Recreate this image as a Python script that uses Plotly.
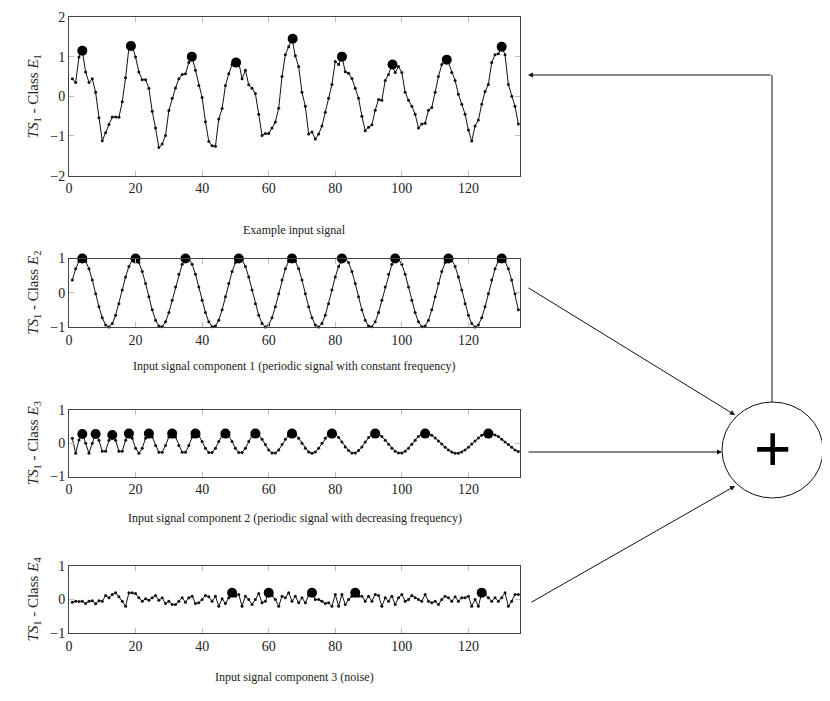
import plotly.graph_objects as go

# time index
t = list(range(1, 136))

# example input signal (class E1)
sig_e1 = [0.44, 0.35, 0.99, 1.15, 0.61, 0.35, 0.44, 0.10, -0.54, -1.12,
          -0.92, -0.71, -0.52, -0.52, -0.53, -0.14, 0.47, 1.22, 1.27, 0.99,
          0.61, 0.42, 0.42, 0.20, -0.38, -0.80, -1.29, -1.20, -0.99, -0.36,
          -0.05, 0.21, 0.44, 0.55, 0.57, 0.85, 1.00, 0.66, 0.27, -0.03,
          -0.64, -1.14, -1.25, -1.26, -0.57, -0.31, 0.27, 0.57, 0.80, 0.85,
          0.85, 0.44, 0.66, 0.29, 0.20, 0.07, -0.45, -0.99, -0.94, -0.94,
          -0.80, -0.65, -0.30, 0.50, 1.05, 1.25, 1.45, 1.02, 0.75, 0.10,
          -0.25, -0.95, -0.90, -1.08, -0.95, -0.75, -0.40, -0.05, 0.30, 0.88,
          0.80, 1.00, 0.62, 0.58, 0.45, 0.20, -0.05, -0.50, -0.87, -0.78,
          -0.72, -0.35, -0.08, -0.10, 0.40, 0.55, 0.80, 0.60, 0.75, 0.60,
          0.10, -0.10, -0.25, -0.45, -0.80, -0.70, -0.68, -0.35, -0.28, 0.10,
          0.50, 0.80, 0.92, 0.85, 0.60, 0.40, 0.05, -0.20, -0.45, -0.85,
          -1.13, -0.75, -0.60, -0.20, 0.12, 0.30, 0.85, 1.05, 1.07, 1.25,
          1.05, 0.30, 0.00, -0.25, -0.70]

# component 1: constant frequency
sig_e2 = [0.37, 0.70, 0.92,
          1.00, 0.92, 0.70, 0.37, -0.03, -0.41, -0.73, -0.94, -1.00, -0.90, -0.66, -0.32, 0.08, 0.46, 0.77, 0.96,
          1.00, 0.88, 0.62, 0.27, -0.12, -0.50, -0.80, -0.97, -0.99, -0.85, -0.58, -0.22, 0.17, 0.54, 0.83, 0.98,
          0.98, 0.83, 0.54, 0.17, -0.22, -0.58, -0.85, -0.99, -0.97, -0.80, -0.50, -0.12, 0.27, 0.62, 0.88, 1.00,
          0.96, 0.77, 0.46, 0.08, -0.32, -0.66, -0.90, -1.00, -0.94, -0.73, -0.41, -0.03, 0.37, 0.70, 0.92,
          1.00, 0.92, 0.70, 0.37, -0.03, -0.41, -0.73, -0.94, -1.00, -0.90, -0.66, -0.32, 0.08, 0.46, 0.77, 0.96,
          1.00, 0.88, 0.62, 0.27, -0.12, -0.50, -0.80, -0.97, -0.99, -0.85, -0.58, -0.22, 0.17, 0.54, 0.83, 0.98,
          0.98, 0.83, 0.54, 0.17, -0.22, -0.58, -0.85, -0.99, -0.97, -0.80, -0.50, -0.12, 0.27, 0.62, 0.88, 1.00,
          0.96, 0.77, 0.46, 0.08, -0.32, -0.66, -0.90, -1.00, -0.94, -0.73, -0.41, -0.03, 0.37, 0.70, 0.92,
          1.00, 0.92, 0.70, 0.37, -0.03, -0.50]

# component 2: decreasing frequency
sig_e3 = [0.15, -0.30, 0.10, 0.30, 0.00, -0.30, 0.00, 0.30,
          0.09, -0.24, -0.24, 0.09, 0.30,
          0.09, -0.24, -0.24, 0.09, 0.30,
          0.15, -0.15, -0.30, -0.15, 0.15, 0.30,
          0.19, -0.07, -0.27, -0.27, -0.07, 0.19, 0.30,
          0.19, -0.07, -0.27, -0.27, -0.07, 0.19, 0.30,
          0.23, 0.05, -0.15, -0.28, -0.28, -0.15, 0.05, 0.23, 0.30,
          0.23, 0.05, -0.15, -0.28, -0.28, -0.15, 0.05, 0.23, 0.30,
          0.25, 0.12, -0.04, -0.20, -0.29, -0.29, -0.20, -0.04, 0.12, 0.25, 0.30,
          0.26, 0.15, 0.00, -0.15, -0.26, -0.30, -0.26, -0.15, 0.00, 0.15, 0.26, 0.30,
          0.27, 0.17, 0.04, -0.11, -0.22, -0.29, -0.29, -0.22, -0.11, 0.04, 0.17, 0.27, 0.30,
          0.27, 0.20, 0.09, -0.03, -0.15, -0.24, -0.29, -0.29, -0.24, -0.15, -0.03, 0.09, 0.20, 0.27, 0.30,
          0.28, 0.24, 0.16, 0.07, -0.02, -0.12, -0.20, -0.26, -0.30, -0.30, -0.26, -0.20, -0.12, -0.02, 0.07, 0.16, 0.24, 0.28, 0.30,
          0.29, 0.25, 0.20, 0.12, 0.04, -0.04, -0.12, -0.20, -0.25]

# component 3: noise
sig_e4 = [-0.08, -0.05, -0.06, -0.05, -0.12, -0.05, -0.04, -0.13, -0.04, -0.05,
          0.12, 0.05, 0.15, 0.20, 0.08, -0.05, -0.20, 0.20, 0.20, 0.18,
          0.05, -0.05, 0.02, -0.02, 0.05, 0.12, -0.02, 0.05, -0.12, -0.05,
          -0.15, -0.15, -0.05, 0.05, -0.08, 0.05, 0.10, -0.12, -0.10, 0.00,
          0.12, 0.08, -0.05, 0.10, -0.20, 0.02, -0.12, 0.05, 0.20, 0.10,
          0.15, -0.20, 0.10, 0.00, -0.15, 0.00, 0.18, -0.10, -0.05, 0.20,
          0.12, 0.00, -0.20, 0.10, 0.05, 0.20, -0.05, 0.10, -0.10, 0.05,
          -0.10, 0.12, 0.20, 0.00, 0.00, -0.05, -0.12, -0.10, -0.20, 0.15,
          -0.20, 0.15, -0.15, 0.00, 0.10, 0.20, 0.10, 0.10, -0.05, 0.10,
          -0.05, 0.15, 0.12, -0.20, 0.05, -0.05, 0.10, -0.15, 0.05, 0.15,
          -0.05, 0.00, 0.12, 0.05, 0.00, -0.05, 0.15, -0.05, -0.10, -0.05,
          -0.15, 0.00, 0.10, 0.05, -0.05, 0.08, -0.05, 0.05, 0.05, 0.10,
          -0.20, 0.00, -0.20, 0.20, 0.15, 0.05, -0.05, 0.05, -0.05, 0.05,
          0.20, -0.20, -0.05, 0.15, 0.15]

# detected peaks (big dots)
pk1_x = [4, 18.6, 36.9, 50.2, 67.2, 82, 97.2, 113.5, 130]
pk1_y = [1.15, 1.27, 1.0, 0.85, 1.45, 1.0, 0.8, 0.92, 1.25]
pk2_x = [4, 20, 35, 51, 67, 82, 98, 114, 130]
pk2_y = [1, 1, 1, 1, 1, 1, 1, 1, 1]
pk3_x = [4, 8, 13, 18, 24, 31, 38, 47, 56, 67, 79, 92, 107, 126]
pk3_y = [0.28, 0.28, 0.25, 0.29, 0.29, 0.29, 0.29, 0.29, 0.29, 0.29, 0.29, 0.29, 0.29, 0.29]
pk4_x = [49, 60, 73, 86, 124]
pk4_y = [0.2, 0.2, 0.2, 0.2, 0.2]

captions = ["Example input signal",
            "Input signal component 1 (periodic signal with constant frequency)",
            "Input signal component 2 (periodic signal with decreasing frequency)",
            "Input signal component 3 (noise)"]

# page has an 8px body margin, so the figure is 8px smaller and positions are shifted
OFF = 8
W, H = 830 - OFF, 701 - OFF
def px(v): return (v - OFF) / W
def py(v): return 1 - (v - OFF) / H

serif = "Liberation Serif, Times New Roman, serif"
signals = [sig_e1, sig_e2, sig_e3, sig_e4]
peaks = [(pk1_x, pk1_y), (pk2_x, pk2_y), (pk3_x, pk3_y), (pk4_x, pk4_y)]
# pixel top/bottom of each panel
rows = [(17, 175.6), (258.5, 327), (410, 476.5), (566, 633)]
cap_y = [220.7, 366, 527, 686]
yranges = [[-2, 2], [-1, 1], [-1, 1], [-1, 1]]
yticks = [[-2, -1, 0, 1, 2], [-1, 0, 1], [-1, 0, 1], [-1, 0, 1]]

fig = go.Figure()
layout = {}
for i in range(4):
    n = "" if i == 0 else str(i + 1)
    fig.add_trace(go.Scatter(x=t, y=signals[i], mode="lines+markers",
                             line=dict(color="#111", width=1),
                             marker=dict(color="#111", size=3),
                             xaxis="x" + n, yaxis="y" + n, cliponaxis=False,
                             showlegend=False))
    fig.add_trace(go.Scatter(x=peaks[i][0], y=peaks[i][1], mode="markers",
                             marker=dict(color="black", size=10),
                             xaxis="x" + n, yaxis="y" + n, cliponaxis=False,
                             showlegend=False))
    top, bot = rows[i]
    layout["xaxis" + n] = dict(domain=[px(69), px(520)], anchor="y" + n,
                               range=[0, 135.5], tickvals=[0, 20, 40, 60, 80, 100, 120],
                               showgrid=False, zeroline=False, showline=True,
                               linecolor="#444", linewidth=1, mirror="ticks",
                               ticks="inside", ticklen=5, tickcolor="#bbb",
                               automargin=False,
                               tickfont=dict(family=serif, size=14, color="#222"))
    layout["yaxis" + n] = dict(domain=[py(bot), py(top)], anchor="x" + n,
                               range=yranges[i], tickvals=yticks[i],
                               showgrid=False, zeroline=False, showline=True,
                               linecolor="#444", linewidth=1, mirror="ticks",
                               ticks="inside", ticklen=5, tickcolor="#bbb",
                               automargin=False,
                               tickfont=dict(family=serif, size=14, color="#222"),
                               title=dict(text="<i>TS</i><sub>1</sub> - Class <i>E</i><sub>%d</sub>" % (i + 1),
                                          font=dict(family=serif, size=15, color="#222"),
                                          standoff=8))
fig.update_layout(**layout)

ann = []
for i, c in enumerate(captions):
    ann.append(dict(text=c, x=px(294.5), y=py(cap_y[i]), xref="paper", yref="paper",
                    xanchor="center", showarrow=False,
                    font=dict(family=serif, size=12, color="#222")))

# arrows into the adder / back to the input signal (start, end) in pixels
arrows = [((772, 75), (528, 75)),
          ((527, 287), (735, 415)),
          ((527, 452), (722, 452)),
          ((530, 603), (735, 486))]
for (sx, sy), (ex, ey) in arrows:
    ann.append(dict(x=px(ex), y=py(ey), ax=sx - ex, ay=sy - ey, xref="paper", yref="paper",
                    axref="pixel", ayref="pixel", showarrow=True, arrowhead=2,
                    arrowsize=1, arrowwidth=1, arrowcolor="#111", text=""))
ann.append(dict(text="+", x=px(772), y=py(449), xref="paper", yref="paper",
                xanchor="center", yanchor="middle", showarrow=False,
                font=dict(family="Liberation Sans, Arial", size=64, color="black")))

shapes = [dict(type="circle", xref="paper", yref="paper", x0=px(722), x1=px(823),
               y0=py(498), y1=py(402), line=dict(color="#111", width=1)),
          dict(type="line", xref="paper", yref="paper", x0=px(772), x1=px(772),
               y0=py(402), y1=py(75), line=dict(color="#111", width=1))]

fig.update_layout(width=W, height=H, margin=dict(l=0, r=0, t=0, b=0),
                  paper_bgcolor="white", plot_bgcolor="white",
                  annotations=ann, shapes=shapes)
fig.write_html("out.html")
